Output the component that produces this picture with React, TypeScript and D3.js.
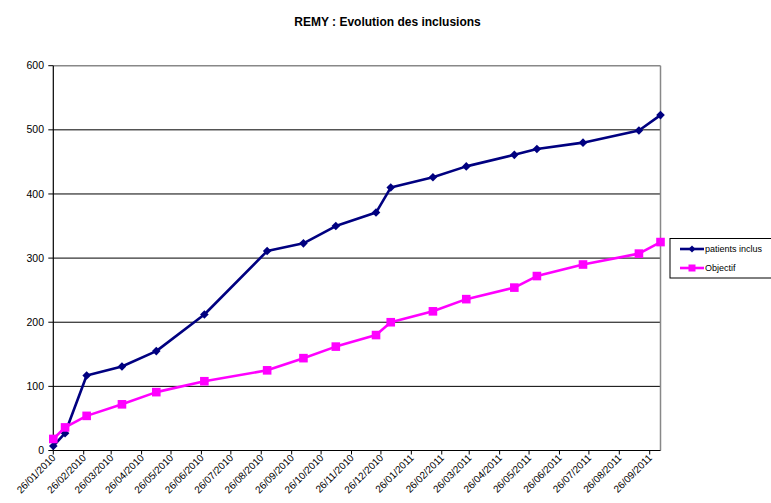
import React from 'react';
import * as d3 from 'd3';

const title = 'REMY : Evolution des inclusions';

const dates = [
  '26/01/2010', '07/02/2010', '01/03/2010', '06/04/2010', '11/05/2010', '29/06/2010',
  '01/09/2010', '08/10/2010', '10/11/2010', '21/12/2010', '05/01/2011', '17/02/2011',
  '23/03/2011', '11/05/2011', '03/06/2011', '20/07/2011', '15/09/2011', '07/10/2011',
];
const patientsInclus = [7, 27, 117, 131, 155, 212, 311, 323, 350, 371, 410, 426, 443, 461, 470, 480, 499, 523];
const objectif = [18, 36, 54, 72, 91, 108, 125, 144, 162, 180, 200, 217, 236, 254, 272, 290, 307, 325];

const xTickLabels = [
  '26/01/2010', '26/02/2010', '26/03/2010', '26/04/2010', '26/05/2010', '26/06/2010',
  '26/07/2010', '26/08/2010', '26/09/2010', '26/10/2010', '26/11/2010', '26/12/2010',
  '26/01/2011', '26/02/2011', '26/03/2011', '26/04/2011', '26/05/2011', '26/06/2011',
  '26/07/2011', '26/08/2011', '26/09/2011',
];
const yTicks = [0, 100, 200, 300, 400, 500, 600];

const seriesNames = ['patients inclus', 'Objectif'];
const colors = ['#000080', '#FF00FF'];

const W = 771;
const H = 503;
const left = 53.3;
const right = 660.5;
const top = 65.7;
const bottom = 450.5;

const parse = d3.timeParse('%d/%m/%Y');

export default function App() {
  const x = d3.scaleTime()
    .domain([parse(dates[0]) as Date, parse(dates[dates.length - 1]) as Date])
    .range([left, right]);
  const y = d3.scaleLinear().domain([0, 600]).range([bottom, top]);

  const pts = (vals: number[]) => vals.map((v, i) => [x(parse(dates[i]) as Date), y(v)] as [number, number]);
  const line = d3.line();
  const series = [pts(patientsInclus), pts(objectif)];

  const font = 'Liberation Sans, Arial, sans-serif';

  const diamond = (cx: number, cy: number, r: number) =>
    `M${cx},${cy - r}L${cx + r},${cy}L${cx},${cy + r}L${cx - r},${cy}Z`;

  return (
    <svg width={W} height={H} style={{ position: 'absolute', left: 0, top: 0, background: '#fff' }} fontFamily={font}>
      <text x={387.5} y={25.5} textAnchor="middle" fontSize={12} fontWeight="bold">{title}</text>

      {/* grid */}
      {yTicks.filter(t => t > 0 && t < 600).map(t => (
        <line key={t} x1={left} x2={right} y1={y(t)} y2={y(t)} stroke="#000" strokeWidth={1} />
      ))}
      {/* plot border (top + right grey) */}
      <line x1={left} x2={right} y1={top} y2={top} stroke="#888" strokeWidth={1.5} />
      <line x1={right} x2={right} y1={top} y2={bottom} stroke="#888" strokeWidth={1.5} />

      {/* y axis */}
      <line x1={left} x2={left} y1={top} y2={bottom} stroke="#000" strokeWidth={1.2} />
      {yTicks.map(t => (
        <g key={t}>
          <line x1={left - 5} x2={left} y1={y(t)} y2={y(t)} stroke="#000" />
          <text x={44} y={y(t) + 3.6} textAnchor="end" fontSize={10.5} fill="#000">{t}</text>
        </g>
      ))}

      {/* x axis */}
      <line x1={left} x2={right} y1={bottom} y2={bottom} stroke="#000" strokeWidth={1.2} />
      {xTickLabels.map(s => {
        const tx = x(parse(s) as Date);
        return (
          <g key={s}>
            <line x1={tx} x2={tx} y1={bottom} y2={bottom + 4} stroke="#000" />
            <text
              transform={`translate(${tx + 3},${bottom + 8}) rotate(-45)`}
              textAnchor="end"
              fontSize={10}
              fill="#000"
            >{s}</text>
          </g>
        );
      })}

      {/* series */}
      {series.map((p, si) => (
        <g key={si}>
          <path d={line(p) ?? ''} fill="none" stroke={colors[si]} strokeWidth={2.6} strokeLinejoin="round" />
          {p.map(([px, py], i) =>
            si === 0
              ? <path key={i} d={diamond(px, py, 4.3)} fill={colors[si]} />
              : <rect key={i} x={px - 4.3} y={py - 4.3} width={8.6} height={8.6} fill={colors[si]} />
          )}
        </g>
      ))}

      {/* legend */}
      <rect x={670} y={238.5} width={104} height={39.5} fill="#fff" stroke="#000" strokeWidth={1} />
      {seriesNames.map((n, i) => {
        const ly = 249 + i * 19;
        return (
          <g key={n}>
            <line x1={680} x2={704} y1={ly} y2={ly} stroke={colors[i]} strokeWidth={2.6} />
            {i === 0
              ? <path d={diamond(692, ly, 3.5)} fill={colors[i]} />
              : <rect x={688.5} y={ly - 3.5} width={7} height={7} fill={colors[i]} />}
            <text x={705} y={ly + 3} fontSize={9} fill="#000">{n}</text>
          </g>
        );
      })}
    </svg>
  );
}
